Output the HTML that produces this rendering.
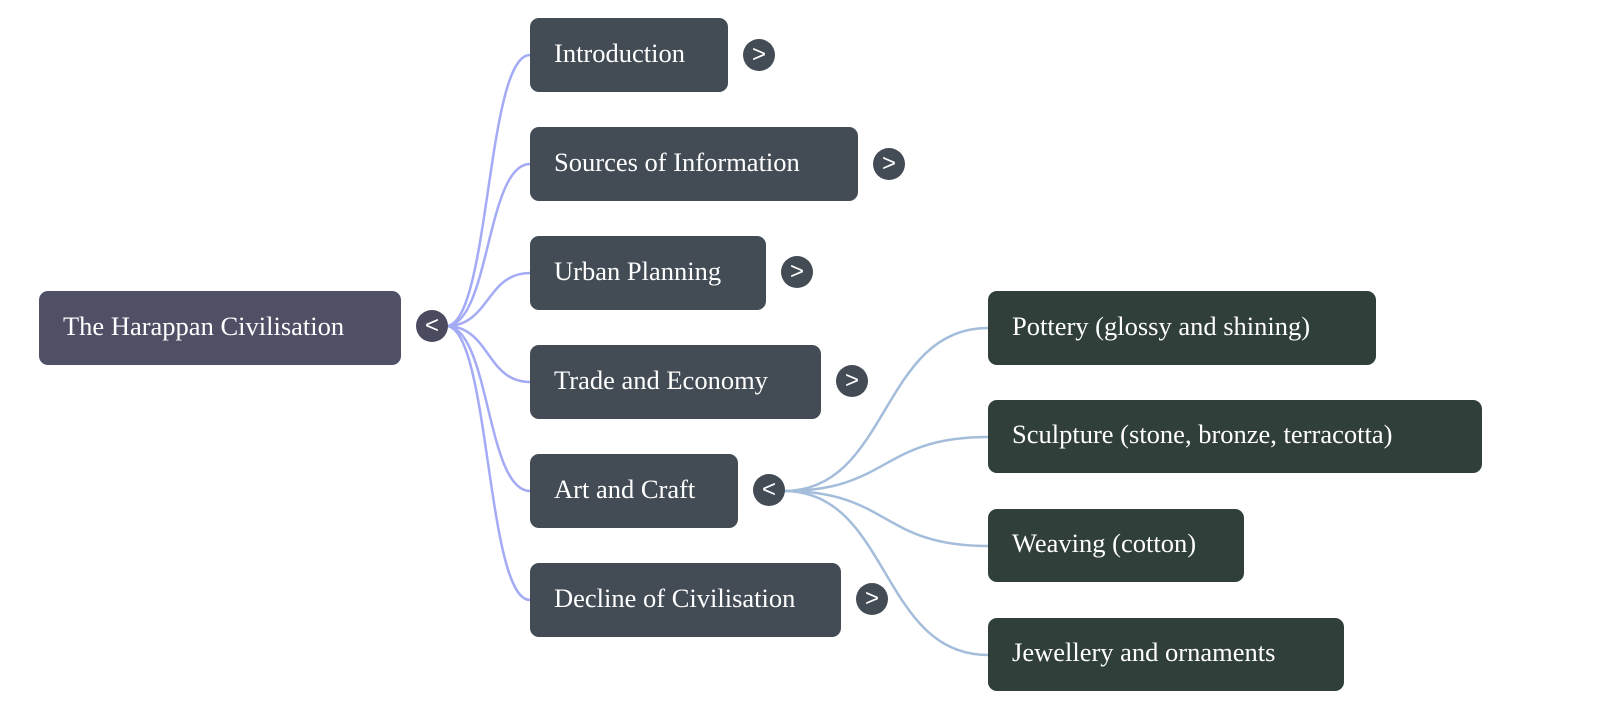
<!DOCTYPE html>
<html><head><style>
body{margin:0;width:1600px;height:724px;background:#fff;position:relative;overflow:hidden;font-family:"Liberation Serif",serif}
.b{position:absolute;color:#fff;font-size:26.5px;border-radius:9px;box-sizing:border-box;padding-left:24px;display:flex;align-items:center;padding-bottom:4px}
.c{position:absolute;width:32px;height:32px;border-radius:50%;background:#434b55;color:#fff;font-family:"Liberation Sans",sans-serif;font-size:24px;display:flex;align-items:center;justify-content:center;line-height:1}
</style></head><body>
<svg width="1600" height="724" style="position:absolute;left:0;top:0" fill="none">
<g stroke="#a4abf5" stroke-width="2.5">
<path d="M446 326 C490 326 486 55 530 55"/>
<path d="M446 326 C490 326 486 164 530 164"/>
<path d="M446 326 C490 326 486 273 530 273"/>
<path d="M446 326 C490 326 486 382 530 382"/>
<path d="M446 326 C490 326 486 491 530 491"/>
<path d="M446 326 C490 326 486 600 530 600"/>
</g>
<g stroke="#a3bddb" stroke-width="2.5">
<path d="M784 491 C890 491 880 328 988 328"/>
<path d="M784 491 C890 491 880 437 988 437"/>
<path d="M784 491 C890 491 880 546 988 546"/>
<path d="M784 491 C890 491 880 655 988 655"/>
</g>
</svg>
<div class="b" style="left:39px;top:291px;width:362px;height:74px;background:#4f5066">The Harappan Civilisation</div>
<div class="c" style="left:416px;top:310px;background:#4a4b5e">&lt;</div>
<div class="b" style="left:530px;top:18px;width:198px;height:74px;background:#434b55">Introduction</div>
<div class="c" style="left:743px;top:39px">&gt;</div>
<div class="b" style="left:530px;top:127px;width:328px;height:74px;background:#434b55">Sources of Information</div>
<div class="c" style="left:873px;top:148px">&gt;</div>
<div class="b" style="left:530px;top:236px;width:236px;height:74px;background:#434b55">Urban Planning</div>
<div class="c" style="left:781px;top:256px">&gt;</div>
<div class="b" style="left:530px;top:345px;width:291px;height:74px;background:#434b55">Trade and Economy</div>
<div class="c" style="left:836px;top:365px">&gt;</div>
<div class="b" style="left:530px;top:454px;width:208px;height:74px;background:#434b55">Art and Craft</div>
<div class="c" style="left:753px;top:474px">&lt;</div>
<div class="b" style="left:530px;top:563px;width:311px;height:74px;background:#434b55">Decline of Civilisation</div>
<div class="c" style="left:856px;top:583px">&gt;</div>
<div class="b" style="left:988px;top:291px;width:388px;height:74px;background:#313f3b">Pottery (glossy and shining)</div>
<div class="b" style="left:988px;top:400px;width:494px;height:73px;background:#313f3b">Sculpture (stone, bronze, terracotta)</div>
<div class="b" style="left:988px;top:509px;width:256px;height:73px;background:#313f3b">Weaving (cotton)</div>
<div class="b" style="left:988px;top:618px;width:356px;height:73px;background:#313f3b">Jewellery and ornaments</div>
</body></html>
